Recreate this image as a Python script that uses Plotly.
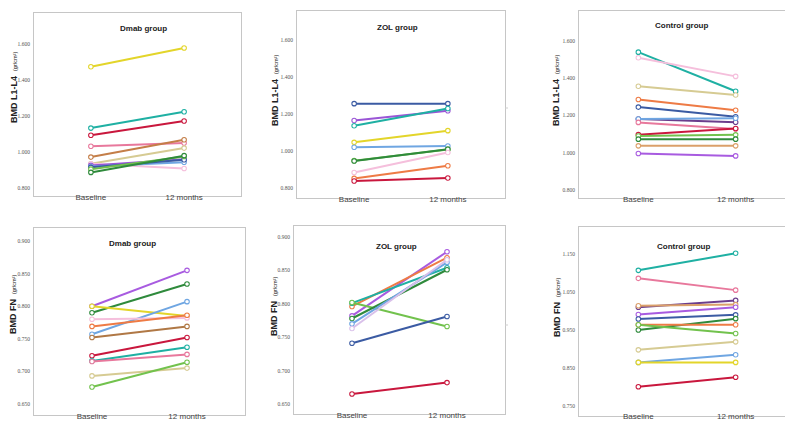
import plotly.graph_objects as go

W, H = 793, 421
time_points = ["Baseline", "12 months"]

# ---------------- data ----------------
# Top row: BMD L1-L4 (gr/cm2)
dmab_l_base = [1.474, 1.133, 1.093, 1.032, 0.972, 0.935, 0.935, 0.926, 0.920, 0.915, 0.905, 0.887]
dmab_l_12m  = [1.578, 1.224, 1.172, 1.050, 1.068, 1.022, 0.909, 0.960, 0.943, 0.957, 0.975, 0.980]
dmab_l_col  = ["#e3d52a", "#1fb0a3", "#c9173d", "#e8789c", "#c47e48", "#d6cb93", "#f5bfdc",
               "#9a55d6", "#6fa6e2", "#3b5ba3", "#72c24d", "#2f8a3c"]

zol_l_base = [1.256, 1.165, 1.137, 1.047, 1.020, 0.948, 0.946, 0.884, 0.852, 0.838]
zol_l_12m  = [1.256, 1.218, 1.230, 1.110, 1.027, 1.008, 1.010, 0.992, 0.920, 0.854]
zol_l_col  = ["#3b5ba3", "#9a55d6", "#1fb0a3", "#e3d52a", "#6fa6e2", "#72c24d", "#2f8a3c",
              "#f5bfdc", "#ee7b45", "#c9173d"]

ctl_l_base = [1.540, 1.510, 1.357, 1.286, 1.245, 1.181, 1.181, 1.163, 1.097, 1.090, 1.073, 1.037, 0.996]
ctl_l_12m  = [1.330, 1.410, 1.310, 1.228, 1.193, 1.164, 1.185, 1.128, 1.130, 1.096, 1.073, 1.037, 0.983]
ctl_l_col  = ["#1fb0a3", "#f5bfdc", "#d6cb93", "#ee7b45", "#3b5ba3", "#6b3d8c", "#6fa6e2",
              "#e8789c", "#c9173d", "#72c24d", "#2f8a3c", "#dba06a", "#a85be0"]

# Bottom row: BMD FN (gr/cm2)
dmab_f_base = [0.800, 0.790, 0.800, 0.757, 0.780, 0.769, 0.752, 0.724, 0.716, 0.715, 0.693, 0.676]
dmab_f_12m  = [0.855, 0.834, 0.785, 0.807, 0.782, 0.786, 0.769, 0.752, 0.737, 0.726, 0.705, 0.714]
dmab_f_col  = ["#a85be0", "#2f8a3c", "#e3d52a", "#6fa6e2", "#f5bfdc", "#ee7b45", "#b07845",
               "#c9173d", "#1fb0a3", "#e8789c", "#d6cb93", "#72c24d"]

zol_f_base = [0.782, 0.796, 0.801, 0.802, 0.778, 0.770, 0.763, 0.741, 0.665]
zol_f_12m  = [0.878, 0.869, 0.854, 0.766, 0.851, 0.862, 0.866, 0.781, 0.682]
zol_f_col  = ["#a85be0", "#ee7b45", "#1fb0a3", "#72c24d", "#2f8a3c", "#6fa6e2", "#d9c0ea",
              "#3b5ba3", "#c9173d"]

ctl_f_base = [1.107, 1.086, 1.010, 1.014, 0.991, 0.979, 0.950, 0.964, 0.964, 0.898, 0.865, 0.865, 0.801]
ctl_f_12m  = [1.152, 1.055, 1.028, 1.017, 1.010, 0.990, 0.980, 0.964, 0.941, 0.919, 0.885, 0.865, 0.826]
ctl_f_col  = ["#1fb0a3", "#e8789c", "#6b3d8c", "#dba06a", "#a85be0", "#3b5ba3", "#2f8a3c",
              "#ee7b45", "#72c24d", "#d6cb93", "#6fa6e2", "#e3d52a", "#c9173d"]

titles = ["Dmab group", "ZOL group", "Control group", "Dmab group", "ZOL group", "Control group"]
l_ticks = [0.8, 1.0, 1.2, 1.4, 1.6]
f_ticks_ab = [0.65, 0.70, 0.75, 0.80, 0.85, 0.90]
f_ticks_c = [0.75, 0.85, 0.95, 1.05, 1.15]

panels = [
    (dmab_l_base, dmab_l_12m, dmab_l_col, l_ticks),
    (zol_l_base, zol_l_12m, zol_l_col, l_ticks),
    (ctl_l_base, ctl_l_12m, ctl_l_col, l_ticks),
    (dmab_f_base, dmab_f_12m, dmab_f_col, f_ticks_ab),
    (zol_f_base, zol_f_12m, zol_f_col, f_ticks_ab),
    (ctl_f_base, ctl_f_12m, ctl_f_col, f_ticks_c),
]

# ---------------- layout geometry (pixels) ----------------
frames = [(26, 233, 5, 188), (289, 497, 3, 190), (571, 787, 3, 190),
          (26, 237, 220, 407), (286, 497, 218, 406), (571, 787, 219, 408)]
yranges = [(0.756, 1.772), (0.746, 1.757), (0.757, 1.761),
           (0.633, 0.920), (0.635, 0.9165), (0.724, 1.221)]
standoffs = [-7, -7, -7, -7, -7, -8]
title_pos = [(135, 21), (389, 19), (673, 17), (124, 235), (388, 238), (675, 238)]
ytitle_pos = [(6, 80), (267, 83), (548, 83), (5, 297), (266, 299), (549, 300)]
ytitle_txt = ["BMD L1-L4", "BMD L1-L4", "BMD L1-L4", "BMD FN", "BMD FN", "BMD FN"]

def px(x):
    return x / W

def py(y):
    return 1 - y / H

fig = go.Figure()
layout = dict(width=W, height=H, margin=dict(l=0, r=0, t=0, b=0),
              paper_bgcolor="white", plot_bgcolor="white", showlegend=False)
annotations = []
shapes = []

for i, (base, m12, cols, ticks) in enumerate(panels):
    k = "" if i == 0 else str(i + 1)
    x0, x1, y0, y1 = frames[i]
    for b, m, c in zip(base, m12, cols):
        fig.add_trace(go.Scatter(
            x=time_points, y=[b, m], mode="lines+markers",
            line=dict(color=c, width=2),
            marker=dict(symbol="circle", size=4.5, color="white",
                        line=dict(color=c, width=1.1)),
            xaxis="x" + k, yaxis="y" + k, hoverinfo="skip"))
    layout["xaxis" + k] = dict(
        domain=[px(x0), px(x1)], anchor="y" + k, type="category",
        range=[-0.61, 1.61], showline=True, mirror=True, linecolor="#c6c6c6",
        linewidth=1, showgrid=False, zeroline=False, ticks="",
        ticklabelstandoff=standoffs[i],
        tickfont=dict(family="Liberation Sans, Arial", size=8, color="#444"))
    layout["yaxis" + k] = dict(
        domain=[py(y1), py(y0)], anchor="x" + k, range=list(yranges[i]),
        showline=True, mirror=True, linecolor="#c6c6c6", linewidth=1,
        showgrid=False, zeroline=False, ticks="", tickvals=ticks,
        tickformat=".3f", ticklabelstandoff=2,
        tickfont=dict(family="Liberation Serif, Times New Roman", size=5.5, color="#555"))
    tx, ty = title_pos[i]
    annotations.append(dict(
        x=px(tx), y=py(ty), xref="paper", yref="paper", text="<b>" + titles[i] + "</b>",
        showarrow=False, xanchor="center", yanchor="middle",
        font=dict(family="Liberation Sans, Arial", size=8, color="#222")))
    ax_, ay_ = ytitle_pos[i]
    annotations.append(dict(
        x=px(ax_), y=py(ay_), xref="paper", yref="paper", textangle=-90,
        text="<b>" + ytitle_txt[i] + "</b>  <span style='font-size:5.5px'>(gr/cm²)</span>",
        showarrow=False, xanchor="center", yanchor="middle",
        font=dict(family="Liberation Sans, Arial", size=9, color="#222")))

# small stray marks from the original composite
line_style = dict(color="#cfcfcf", width=1)
shapes += [
    dict(type="line", xref="paper", yref="paper", x0=px(791), x1=px(791), y0=py(3), y1=py(133), line=line_style),
    dict(type="line", xref="paper", yref="paper", x0=px(787), x1=px(793), y0=py(133), y1=py(133), line=line_style),
    dict(type="line", xref="paper", yref="paper", x0=px(790), x1=px(790), y0=py(217), y1=py(226), line=dict(color="#999", width=1)),
    dict(type="line", xref="paper", yref="paper", x0=px(787), x1=px(793), y0=py(352), y1=py(352), line=line_style),
    dict(type="line", xref="paper", yref="paper", x0=px(497), x1=px(500), y0=py(100), y1=py(100), line=line_style),
    dict(type="line", xref="paper", yref="paper", x0=px(497), x1=px(500), y0=py(317), y1=py(317), line=line_style),
]

layout["annotations"] = annotations
layout["shapes"] = shapes
fig.update_layout(**layout)
fig.write_html("out.html")
